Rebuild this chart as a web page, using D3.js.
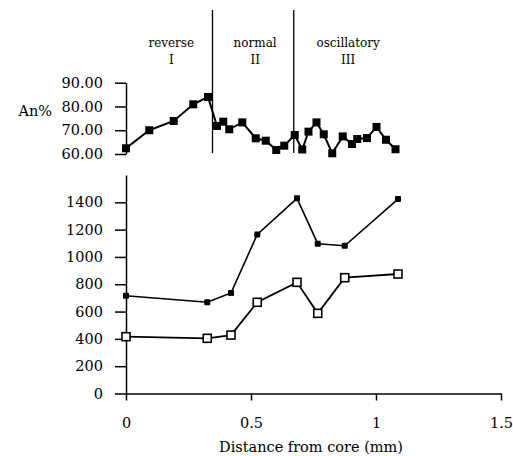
<!DOCTYPE html>
<head>
  <meta charset="utf-8">
  <script src="https://d3js.org/d3.v7.min.js"></script>
  <style>
    body { margin: 0; background: white; }
    svg { display: block; font-family: "DejaVu Serif", serif; }
    .axis path, .axis line { stroke: black; stroke-width: 1.5; }
    .axis text { font-family: "DejaVu Serif", serif; font-size: 14.5px; fill: black; }
  </style>
</head>

<body>
  <svg width="513" height="456"></svg>

  <script>
    // top panel: An% along the traverse
    const anX = [0, 0.093, 0.191, 0.269, 0.328, 0.364, 0.389, 0.413, 0.465, 0.519, 0.559, 0.601, 0.633,
      0.675, 0.705, 0.730, 0.762, 0.791, 0.825, 0.867, 0.904, 0.925, 0.964, 1.002, 1.040, 1.078];
    const anY = [62.4, 70.0, 73.9, 80.9, 84.0, 71.8, 73.6, 70.4, 73.3, 66.6, 65.6, 61.7, 63.5,
      68.0, 61.9, 69.4, 73.3, 68.3, 60.3, 67.4, 64.2, 66.3, 66.7, 71.4, 66.0, 62.0];

    // bottom panel: two series at the same distances
    const lowX = [0, 0.325, 0.42, 0.525, 0.684, 0.767, 0.875, 1.088];
    const filledY = [716, 668, 736, 1165, 1429, 1097, 1082, 1424];
    const openY = [416, 404, 428, 668, 814, 587, 848, 875];

    const zones = [
      { name: 'reverse', num: 'I', from: 0, to: 0.346 },
      { name: 'normal', num: 'II', from: 0.346, to: 0.671 },
      { name: 'oscillatory', num: 'III', from: 0.671, to: 1.09 }
    ];
    const anTicks = [60, 70, 80, 90];
    const lowTicks = [0, 200, 400, 600, 800, 1000, 1200, 1400];
    const xTicks = [0, 0.5, 1, 1.5];

    const svg = d3.select('svg');

    const x = d3.scaleLinear().domain([0, 1.5]).range([126, 501]);
    const yTop = d3.scaleLinear().domain([60, 90]).range([154, 82.7]);
    const yLow = d3.scaleLinear().domain([0, 1600]).range([393.5, 175]);

    // axes
    svg.append('g')
      .attr('class', 'axis')
      .attr('transform', `translate(${x(0)},0)`)
      .call(d3.axisLeft(yTop).tickValues(anTicks).tickFormat(d3.format('.2f'))
        .tickSizeInner(11).tickSizeOuter(0).tickPadding(12));

    svg.append('g')
      .attr('class', 'axis')
      .attr('transform', `translate(${x(0)},0)`)
      .call(d3.axisLeft(yLow).tickValues(lowTicks).tickFormat(d3.format('d'))
        .tickSizeInner(11).tickSizeOuter(0).tickPadding(12));

    svg.append('g')
      .attr('class', 'axis')
      .attr('transform', `translate(0,${yLow(0)})`)
      .call(d3.axisBottom(x).tickValues(xTicks).tickFormat(d => d)
        .tickSizeInner(7).tickSizeOuter(0).tickPadding(17));

    svg.append('text')
      .attr('x', 311).attr('y', 452)
      .attr('text-anchor', 'middle')
      .style('font-size', '14.5px')
      .text('Distance from core (mm)');

    svg.append('text')
      .attr('x', 52).attr('y', 116)
      .attr('text-anchor', 'end')
      .style('font-size', '14.5px')
      .text('An%');

    // zone dividers and labels
    svg.selectAll('.divider')
      .data(zones.slice(1))
      .enter().append('line')
      .attr('class', 'divider')
      .attr('x1', d => x(d.from)).attr('x2', d => x(d.from))
      .attr('y1', 10).attr('y2', 153)
      .attr('stroke', 'black')
      .attr('stroke-width', 1.3);

    const zl = svg.selectAll('.zone')
      .data(zones)
      .enter().append('g')
      .attr('class', 'zone')
      .attr('transform', d => `translate(${(x(d.from) + x(d.to)) / 2 + 2},0)`)
      .style('font-size', '12px')
      .attr('text-anchor', 'middle');
    zl.append('text').attr('y', 47).text(d => d.name);
    zl.append('text').attr('y', 64).text(d => d.num);

    // top line with filled squares
    const topPts = anX.map((v, i) => [v, anY[i]]);
    svg.append('path')
      .datum(topPts)
      .attr('fill', 'none')
      .attr('stroke', 'black')
      .attr('stroke-width', 2)
      .attr('d', d3.line().x(d => x(d[0])).y(d => yTop(d[1])));
    svg.selectAll('.an')
      .data(topPts)
      .enter().append('rect')
      .attr('class', 'an')
      .attr('x', d => x(d[0]) - 4).attr('y', d => yTop(d[1]) - 4)
      .attr('width', 8).attr('height', 8)
      .attr('fill', 'black');

    // bottom series
    const filledPts = lowX.map((v, i) => [v, filledY[i]]);
    const openPts = lowX.map((v, i) => [v, openY[i]]);
    const lowLine = d3.line().x(d => x(d[0])).y(d => yLow(d[1]));

    svg.append('path')
      .datum(filledPts)
      .attr('fill', 'none')
      .attr('stroke', 'black')
      .attr('stroke-width', 1.6)
      .attr('d', lowLine);
    svg.selectAll('.filled')
      .data(filledPts)
      .enter().append('rect')
      .attr('class', 'filled')
      .attr('x', d => x(d[0]) - 3).attr('y', d => yLow(d[1]) - 3)
      .attr('width', 6).attr('height', 6)
      .attr('rx', 1)
      .attr('fill', 'black');

    svg.append('path')
      .datum(openPts)
      .attr('fill', 'none')
      .attr('stroke', 'black')
      .attr('stroke-width', 1.8)
      .attr('d', lowLine);
    svg.selectAll('.open')
      .data(openPts)
      .enter().append('rect')
      .attr('class', 'open')
      .attr('x', d => x(d[0]) - 4).attr('y', d => yLow(d[1]) - 4)
      .attr('width', 8).attr('height', 8)
      .attr('fill', 'white')
      .attr('stroke', 'black')
      .attr('stroke-width', 1.6);
  </script>
</body>
